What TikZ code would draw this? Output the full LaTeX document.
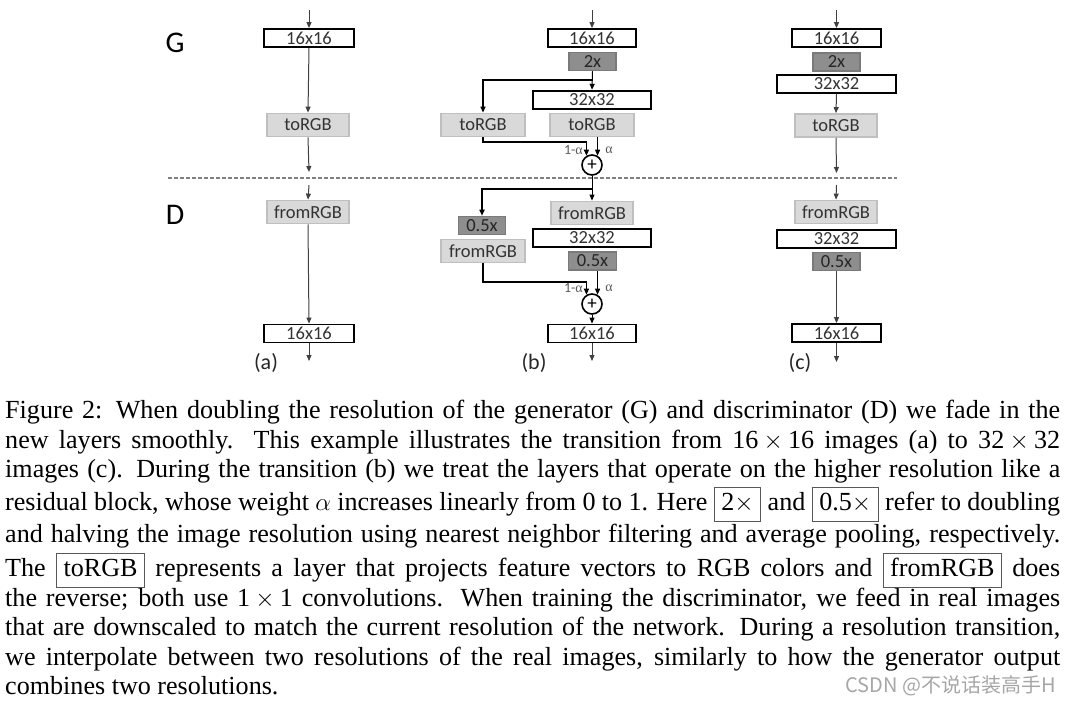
\documentclass[tikz,border=0pt]{standalone}
\usepackage{fontspec}
\setmainfont{Liberation Serif}
\newfontfamily\carl{Carlito}
\newfontfamily\cjk{Noto Sans CJK SC}
\usetikzlibrary{arrows.meta,calc}
\definecolor{lgfill}{HTML}{D9D9D9}
\definecolor{lgdraw}{HTML}{BFBFBF}
\definecolor{dgfill}{HTML}{8E8E8E}
\definecolor{dgdraw}{HTML}{7A7A7A}
\definecolor{txt}{HTML}{333333}
\definecolor{conncol}{HTML}{404040}
\newcommand\capbox[1]{{\setlength\fboxsep{1.5pt}\setlength\fboxrule{1.1pt}\fcolorbox{black!65}{white}{\strut\hspace{5pt}#1\hspace{5pt}}}}
\newcommand\tms{\kern0.2em$\times$\kern0.2em}
\tikzset{
  res/.style={draw=black, line width=1.8pt, fill=white, inner sep=0pt, minimum height=18pt, text=txt, font=\carl\fontsize{18.5}{18.5}\selectfont},
  rgb/.style={draw=lgdraw, line width=1.8pt, fill=lgfill, inner sep=0pt, minimum height=23pt, minimum width=82pt, text=txt, font=\carl\fontsize{18.5}{18.5}\selectfont},
  scl/.style={draw=dgdraw, line width=1.5pt, fill=dgfill, inner sep=0pt, minimum height=18pt, minimum width=47pt, text=black!85, font=\carl\fontsize{18.5}{18.5}\selectfont},
  conn/.style={draw=conncol, line width=1pt, -{Triangle[length=6pt,width=5pt]}},
  br/.style={draw=black, line width=1.8pt},
  brarr/.style={br, -{Triangle[length=6pt,width=5pt]}},
  sum/.style={circle, draw=black, line width=1.6pt, minimum size=20pt, inner sep=0pt, fill=white, font=\carl\fontsize{19}{19}\selectfont},
  lbl/.style={font=\carl\fontsize{14}{14}\selectfont, text=black!65, inner sep=0pt},
  panel/.style={font=\carl\fontsize{22}{22}\selectfont, text=black!85, inner sep=0pt},
  big/.style={font=\carl\fontsize{30}{30}\selectfont, inner sep=0pt},
  capline/.style={anchor=base west, inner sep=0pt, font=\fontsize{26.1}{29.4}\selectfont},
  sepline/.style={draw=black!50, line width=1.3pt, dash pattern=on 3.5pt off 2.5pt},
}
\begin{document}
\begin{tikzpicture}[x=1pt,y=-1pt]
\useasboundingbox (0,0) rectangle (1070,703);

% labels G / D
\node[big] (Glab) at (175,43) {G};
\node[big] (Dlab) at (175,215) {D};

% dashed separator
\coordinate (sepL) at (168,178);
\coordinate (sepR) at (897,178);
\draw[sepline] (sepL) -- (sepR);

% ---------- (a) ----------
\node[res, minimum width=90pt] (G16a) at (309,38) {16x16};
\node[rgb] (toa) at (308,125) {toRGB};
\node[rgb] (froma) at (308,212) {fromRGB};
\node[res, minimum width=90pt] (D16a) at (309,333.5) {16x16};
\coordinate (ina) at (309,10);
\coordinate (outGa) at (309,172);
\coordinate (inDa) at (309,185);
\coordinate (outa) at (309,361);
\draw[conn] (ina) -- (G16a.north);
\draw[conn] (G16a.south) -- (toa.north);
\draw[conn] (toa.south) -- (outGa);
\draw[conn] (inDa) -- (froma.north);
\draw[conn] (froma.south) -- (D16a.north);
\draw[conn] (D16a.south) -- (outa);
\node[panel] (pa) at (266,363) {(a)};

% ---------- (b) ----------
\node[res, minimum width=88pt] (G16b) at (592,38) {16x16};
\node[scl] (s2b) at (592.5,61.5) {2x};
\node[res, minimum width=118pt] (G32b) at (592,99.7) {32x32};
\node[rgb, minimum width=84pt] (toL) at (483,125) {toRGB};
\node[rgb, minimum width=84pt] (toR) at (592,125) {toRGB};
\node[sum] (plusG) at (592,165) {+};
\coordinate (inb) at (592,10);
\coordinate (brG) at (592,80);
\draw[conn] (inb) -- (G16b.north);
\draw[conn, draw=black] (s2b.south) -- (G32b.north);
\draw[brarr] (brG) -| (toL.north);
\draw[brarr] (toL.south) -- ++(0,4.3) -| (plusG.121);
\draw[conn, draw=black] (plusG.59 |- toR.south) -- (plusG.59);
\node[lbl, anchor=east] (aG1) at (583,150) {1-{\rmfamily α}};
\node[lbl] (aG2) at (609,150) {\rmfamily α};

\node[rgb] (fromR) at (592,213) {fromRGB};
\node[res, minimum width=118pt] (D32b) at (592,238) {32x32};
\node[scl, minimum width=48pt] (hR) at (592.5,261) {0.5x};
\node[scl] (hL) at (482,225.5) {0.5x};
\node[rgb, minimum width=84pt] (fromL) at (483,251) {fromRGB};
\node[sum] (plusD) at (592,304) {+};
\node[res, minimum width=88pt] (D16b) at (592,333.5) {16x16};
\coordinate (brD) at (592,189.3);
\coordinate (outb) at (592,361);
\draw[conn, draw=black] (plusG.south) -- (fromR.north);
\draw[brarr] (brD) -| (hL.north);
\draw[brarr] (fromL.south) -- ++(0,18.5) -| (plusD.121);
\draw[conn, draw=black] (plusD.59 |- hR.south) -- (plusD.59);
\node[lbl, anchor=east] (aD1) at (583,288.5) {1-{\rmfamily α}};
\node[lbl] (aD2) at (609,288.5) {\rmfamily α};
\draw[conn, draw=black] (plusD.south) -- (D16b.north);
\draw[conn] (D16b.south) -- (outb);
\node[panel] (pb) at (534,363) {(b)};

% ---------- (c) ----------
\node[res, minimum width=89pt] (G16c) at (836.5,38) {16x16};
\node[scl] (s2c) at (836.5,62) {2x};
\node[res, minimum width=119pt] (G32c) at (836.5,84) {32x32};
\node[rgb] (toc) at (836,125.5) {toRGB};
\node[rgb] (fromc) at (836,212) {fromRGB};
\node[res, minimum width=119pt] (D32c) at (836.5,239) {32x32};
\node[scl] (hc) at (836.5,261.5) {0.5x};
\node[res, minimum width=89pt] (D16c) at (836.5,333) {16x16};
\coordinate (inc) at (836.5,10);
\coordinate (outGc) at (836.5,173);
\coordinate (inDc) at (836.5,185);
\coordinate (outc) at (836.5,362);
\draw[conn] (inc) -- (G16c.north);
\draw[conn] (G32c.south) -- (toc.north);
\draw[conn] (toc.south) -- (outGc);
\draw[conn] (inDc) -- (fromc.north);
\draw[conn] (hc.south) -- (D16c.north);
\draw[conn] (D16c.south) -- (outc);
\node[panel] (pc) at (800,363) {(c)};

% ---------- caption ----------
\node[capline] (c1) at (5,418.5) {\makebox[1055pt][s]{Figure 2: When doubling the resolution of the generator (G) and discriminator (D) we fade in the}};
\node[capline] (c2) at (5,448) {\makebox[1055pt][s]{new layers smoothly.\ \ This example illustrates the transition from 16\tms16 images (a) to 32\tms32}};
\node[capline] (c3) at (5,477.5) {\makebox[1055pt][s]{images (c). During the transition (b) we treat the layers that operate on the higher resolution like a}};
\node[capline] (c4) at (5,510.5) {\makebox[1055pt][s]{residual block, whose weight $\alpha$ increases linearly from 0 to 1. Here \capbox{2$\times$} and \capbox{0.5$\times$} refer to doubling}};
\node[capline] (c5) at (5,542.5) {\makebox[1055pt][s]{and halving the image resolution using nearest neighbor filtering and average pooling, respectively.}};
\node[capline] (c6) at (5,576.5) {\makebox[1055pt][s]{The \capbox{toRGB} represents a layer that projects feature vectors to RGB colors and \capbox{fromRGB} does}};
\node[capline] (c7) at (5,606) {\makebox[1055pt][s]{the reverse; both use 1\tms1 convolutions.\ \ When training the discriminator, we feed in real images}};
\node[capline] (c8) at (5,635.5) {\makebox[1055pt][s]{that are downscaled to match the current resolution of the network. During a resolution transition,}};
\node[capline] (c9) at (5,665) {\makebox[1055pt][s]{we interpolate between two resolutions of the real images, similarly to how the generator output}};
\node[capline] (c10) at (5,694.3) {combines two resolutions.};

% watermark
\node[anchor=east, inner sep=0pt, text=black!35, font=\cjk\fontsize{20}{20}\selectfont] (wm) at (1056,686) {CSDN @不说话装高手H};
\end{tikzpicture}
\end{document}
